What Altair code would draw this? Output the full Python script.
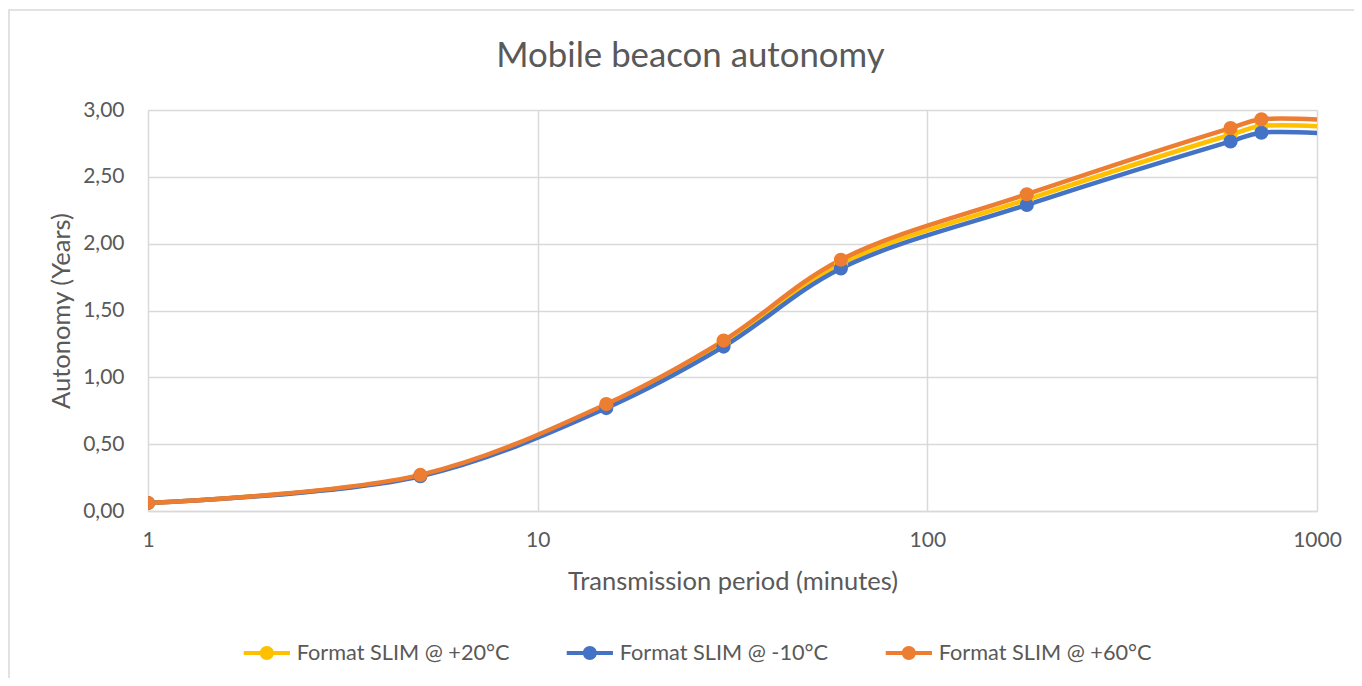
import altair as alt
import pandas as pd

# Data
periods = [1, 5, 15, 30, 60, 180, 600, 720, 1440]
series_names = ["Format SLIM @ +20°C", "Format SLIM @ -10°C", "Format SLIM @ +60°C"]
autonomy_p20 = [0.06, 0.265, 0.785, 1.255, 1.85, 2.33, 2.815, 2.88, 2.85]
autonomy_m10 = [0.06, 0.26, 0.77, 1.23, 1.815, 2.29, 2.765, 2.83, 2.80]
autonomy_p60 = [0.06, 0.27, 0.80, 1.275, 1.88, 2.37, 2.865, 2.93, 2.90]
series_colors = ["#FFC000", "#4472C4", "#ED7D31"]
x_ticks = [1, 10, 100, 1000]
y_ticks = [0, 0.5, 1.0, 1.5, 2.0, 2.5, 3.0]

rows = []
for name, vals in zip(series_names, [autonomy_p20, autonomy_m10, autonomy_p60]):
    for p, v in zip(periods, vals):
        rows.append({"period": p, "autonomy": v, "series": name})
df = pd.DataFrame(rows)

FONT = "Lato"
TXT = "#595959"
GRID = "#d9d9d9"
W, H = 1169, 401
PAD = {"left": 140, "top": 102, "right": 37, "bottom": 167}

legend_path = ("M -3.3 -0.28 L 3.3 -0.28 L 3.3 0.28 L -3.3 0.28 Z "
               "M 1 0 A 1 1 0 1 1 -1 0 A 1 1 0 1 1 1 0 Z")

color = alt.Color(
    "series:N",
    scale=alt.Scale(domain=series_names, range=series_colors),
    sort=series_names,
    legend=alt.Legend(
        title=None, orient="none", direction="horizontal",
        legendX=108, legendY=532, padding=0,
        symbolType=legend_path, symbolSize=196, symbolStrokeWidth=0,
        labelFont=FONT, labelFontSize=21.7, labelColor=TXT, labelLimit=500,
        labelOffset=19, columnPadding=56, symbolOpacity=1,
    ),
)

x_enc = alt.X(
    "period:Q",
    scale=alt.Scale(type="log", domain=[1, 1000], nice=False),
    axis=alt.Axis(
        title="Transmission period (minutes)", values=x_ticks,
        labelExpr="format(datum.value, 'd')", labelFlush=False,
        grid=True, gridColor=GRID, gridWidth=1.5,
        domain=True, domainColor=GRID, domainWidth=1.5,
        ticks=False, labelPadding=18, titlePadding=19,
        labelFont=FONT, labelFontSize=21, labelColor=TXT,
        titleFont=FONT, titleFontSize=25.5, titleColor=TXT, titleFontWeight="normal",
    ),
)
y_enc = alt.Y(
    "autonomy:Q",
    scale=alt.Scale(domain=[0, 3], nice=False, zero=True),
    axis=alt.Axis(
        title="Autonomy (Years)", values=y_ticks,
        labelExpr="replace(format(datum.value, '.2f'), '.', ',')",
        grid=True, gridColor=GRID, gridWidth=1.5,
        domain=False, ticks=False, labelPadding=24, titlePadding=8,
        labelFont=FONT, labelFontSize=21, labelColor=TXT,
        titleFont=FONT, titleFontSize=25.5, titleColor=TXT, titleFontWeight="normal",
    ),
)

base = alt.Chart(df)

lines = base.mark_line(interpolate="catmull-rom", strokeWidth=4.5, clip=True).encode(
    x=x_enc, y=y_enc, color=color, detail="series:N"
)
points = base.mark_circle(size=200, opacity=1, clip=True).encode(
    x="period:Q", y="autonomy:Q", color=color
)

border = alt.Chart(pd.DataFrame({"a": [0]})).mark_rect(
    fill=None, stroke=GRID, strokeWidth=1.5
).encode(
    x=alt.value(-139), x2=alt.value(W + 200),
    y=alt.value(-100), y2=alt.value(H + 300),
)

chart = alt.layer(border, lines, points).properties(
    width=W, height=H,
    title=alt.TitleParams(
        "Mobile beacon autonomy", font=FONT, fontSize=34.8, color=TXT,
        fontWeight="normal", anchor="middle", dx=-42, offset=-66,
    ),
    autosize=alt.AutoSizeParams(type="none"),
    padding=PAD,
).configure_view(stroke=None).configure(background="white")

chart.save("out.html", embed_options={"renderer": "svg", "actions": False})
